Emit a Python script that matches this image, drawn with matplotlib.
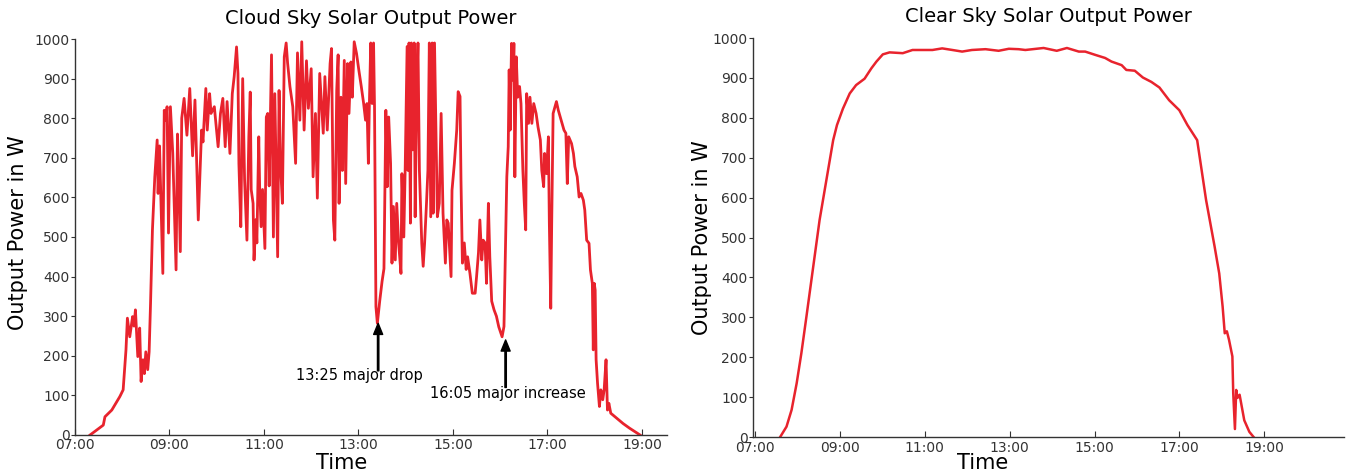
import matplotlib.pyplot as plt

# Час у годинах (десяткові), потужність у Вт
cloud_t = [7.32, 7.60, 7.635, 7.78, 7.95, 8.02, 8.08, 8.11, 8.16, 8.22, 8.25, 8.28, 8.33, 8.37,
           8.40, 8.44, 8.47, 8.50, 8.54, 8.57, 8.60, 8.64, 8.69, 8.74, 8.76, 8.79, 8.86, 8.89,
           8.92, 8.95, 8.98, 9.02, 9.07, 9.14, 9.17, 9.19, 9.23, 9.26, 9.31, 9.37, 9.43, 9.49,
           9.54, 9.61, 9.68, 9.71, 9.77, 9.80, 9.85, 9.88, 9.95, 10.03, 10.08, 10.13, 10.18,
           10.22, 10.28, 10.33, 10.37, 10.42, 10.45, 10.47, 10.51, 10.55, 10.59, 10.64, 10.68,
           10.71, 10.73, 10.77, 10.79, 10.83, 10.85, 10.89, 10.91, 10.94, 10.97, 11.02, 11.05,
           11.08, 11.11, 11.16, 11.20, 11.23, 11.29, 11.32, 11.35, 11.39, 11.43, 11.47, 11.50,
           11.55, 11.61, 11.67, 11.71, 11.76, 11.80, 11.85, 11.90, 11.94, 12.00, 12.04, 12.09,
           12.13, 12.18, 12.255, 12.29, 12.34, 12.40, 12.43, 12.47, 12.50, 12.54, 12.57, 12.59,
           12.63, 12.66, 12.70, 12.73, 12.77, 12.80, 12.84, 12.87, 12.91, 12.96, 13.01, 13.06,
           13.11, 13.15, 13.18, 13.21, 13.23, 13.26, 13.29, 13.32, 13.34, 13.37, 13.40, 13.45,
           13.50, 13.54, 13.58, 13.61, 13.64, 13.68, 13.71, 13.74, 13.78, 13.81, 13.85, 13.90,
           13.92, 13.96, 13.99, 14.03, 14.05, 14.07, 14.10, 14.12, 14.15, 14.18, 14.20, 14.23,
           14.26, 14.29, 14.34, 14.37, 14.40, 14.44, 14.47, 14.50, 14.53, 14.56, 14.58, 14.61,
           14.64, 14.67, 14.71, 14.75, 14.79, 14.84, 14.87, 14.90, 14.96, 14.98, 15.03, 15.08,
           15.11, 15.15, 15.17, 15.20, 15.24, 15.28, 15.31, 15.36, 15.41, 15.47, 15.50, 15.54,
           15.57, 15.61, 15.64, 15.68, 15.71, 15.75, 15.78, 15.82, 15.87, 15.92, 15.97, 16.04,
           16.08, 16.12, 16.14, 16.17, 16.19, 16.21, 16.24, 16.27, 16.29, 16.31, 16.34, 16.37,
           16.41, 16.44, 16.48, 16.51, 16.54, 16.56, 16.60, 16.63, 16.67, 16.71, 16.76, 16.80,
           16.85, 16.88, 16.92, 16.94, 16.98, 17.02, 17.04, 17.07, 17.09, 17.12, 17.19, 17.23,
           17.29, 17.35, 17.39, 17.42, 17.45, 17.51, 17.55, 17.58, 17.63, 17.67, 17.71, 17.76,
           17.79, 17.83, 17.88, 17.91, 17.95, 17.97, 17.99, 18.01, 18.03, 18.06, 18.10, 18.13,
           18.17, 18.20, 18.24, 18.27, 18.30, 18.34, 18.43, 18.60, 18.74, 18.96]
cloud_p = [0, 25, 46, 63, 97, 114, 215, 295, 248, 299, 275, 316, 198, 270,
           135, 190, 155, 210, 165, 210, 333, 518, 652, 745, 610, 730, 408, 820,
           795, 829, 510, 829, 712, 417, 760, 678, 463, 800, 850, 757, 875, 705,
           846, 543, 770, 740, 875, 770, 862, 812, 829, 728, 812, 850, 728,
           842, 711, 862, 905, 980, 913, 685, 526, 900, 645, 492, 753,
           866, 620, 585, 442, 544, 485, 753, 620, 526, 620, 471, 803,
           812, 629, 960, 500, 862, 450, 870, 685, 585, 955, 990, 940,
           880, 829, 686, 965, 795, 993, 770, 945, 825, 925, 652, 812,
           598, 913, 762, 905, 770, 938, 976, 543, 492, 870, 960, 585,
           853, 668, 946, 635, 938, 812, 942, 853, 993, 963, 920, 880,
           837, 795, 837, 686, 829, 990, 837, 990, 829, 324, 282, 338,
           388, 420, 820, 627, 803, 686, 434, 577, 442, 585, 485, 408,
           660, 500, 678, 981, 668, 990, 535, 990, 720, 990, 551, 853,
           990, 668, 484, 426, 484, 585, 668, 990, 551, 990, 560, 990,
           770, 551, 585, 812, 560, 434, 543, 535, 400, 618, 686, 770,
           867, 855, 644, 434, 485, 418, 450, 408, 358, 358, 400, 460,
           543, 442, 492, 485, 383, 585, 450, 338, 316, 300, 273, 248,
           274, 518, 652, 728, 922, 770, 989, 896, 989, 652, 955, 853,
           880, 837, 668, 585, 518, 862, 787, 853, 787, 837, 812, 778,
           745, 668, 627, 711, 660, 753, 535, 320, 535, 812, 842, 820,
           795, 770, 762, 635, 753, 736, 711, 678, 652, 601, 610, 593,
           568, 492, 484, 417, 383, 215, 383, 366, 190, 131, 72, 114,
           89, 114, 190, 63, 80, 55, 46, 29, 17, 0]

clear_t = [7.59, 7.74, 7.86, 7.98, 8.09, 8.21, 8.37, 8.52, 8.68, 8.84, 8.93, 9.07, 9.23,
           9.38, 9.58, 9.74, 9.86, 10.01, 10.17, 10.48, 10.71, 11.18, 11.41, 11.65, 11.88,
           12.11, 12.43, 12.74, 12.98, 13.21, 13.37, 13.80, 14.11, 14.35, 14.63, 14.78,
           15.01, 15.25, 15.40, 15.64, 15.75, 15.95, 16.14, 16.34, 16.53, 16.76, 17.00,
           17.19, 17.42, 17.63, 17.83, 17.94, 18.02, 18.07, 18.12, 18.17, 18.25, 18.27,
           18.31, 18.34, 18.37, 18.42, 18.53, 18.65, 18.75]
clear_p = [0, 26, 68, 135, 210, 302, 427, 544, 644, 744, 782, 823, 861,
           882, 898, 924, 941, 959, 964, 962, 970, 970, 974, 970, 966,
           970, 972, 968, 973, 972, 970, 975, 968, 975, 966, 966,
           958, 950, 941, 932, 920, 918, 901, 890, 876, 844, 819,
           782, 744, 594, 478, 410, 327, 260, 265, 244, 202, 110,
           20, 118, 98, 106, 42, 13, 0]

hour_ticks = [7, 9, 11, 13, 15, 17, 19]
hour_labels = ['07:00', '09:00', '11:00', '13:00', '15:00', '17:00', '19:00']
power_ticks = list(range(0, 1001, 100))

red = '#e8232d'
grey = '#333333'

fig = plt.figure(figsize=(13.48, 4.74), dpi=100)
ax1 = fig.add_axes([0.0556, 0.0823, 0.4392, 0.8354])
ax2 = fig.add_axes([0.5586, 0.078, 0.4384, 0.8418])


def style_axes(ax, xmax, xmin=7):
    ax.set_xlim(xmin, xmax)
    ax.set_ylim(0, 1000)
    ax.set_xticks(hour_ticks)
    ax.set_xticklabels(hour_labels)
    ax.set_yticks(power_ticks)
    for s in ['top', 'right']:
        ax.spines[s].set_visible(False)
    for s in ['left', 'bottom']:
        ax.spines[s].set_color(grey)
        ax.spines[s].set_linewidth(1.0)
    ax.tick_params(axis='x', direction='in', length=4, pad=2.5, labelsize=10,
                   color=grey, labelcolor=grey)
    ax.tick_params(axis='y', direction='out', length=3, pad=1, labelsize=10,
                   color=grey, labelcolor=grey)
    ax.set_ylabel('Output Power in W', fontsize=15)
    ax.set_xlabel('Time', fontsize=15)


# Хмарний день
ax1.plot(cloud_t, cloud_p, color=red, lw=2.0)
style_axes(ax1, 19.53)
ax1.set_title('Cloud Sky Solar Output Power', fontsize=14, pad=11)
ax1.yaxis.set_label_coords(-0.079, 0.51)
ax1.xaxis.set_label_coords(0.45, -0.045)

arrow = dict(facecolor='black', edgecolor='black', width=1.0, headwidth=6.5,
             headlength=8, shrink=0)
ax1.annotate('', xy=(13.417, 282), xytext=(13.417, 162), arrowprops=arrow)
ax1.text(13.03, 149, '13:25 major drop', fontsize=10.5, ha='center', va='center')
ax1.annotate('', xy=(16.115, 240), xytext=(16.115, 120), arrowprops=arrow)
ax1.text(16.16, 106, '16:05 major increase', fontsize=10.5, ha='center', va='center')

# Ясний день
ax2.plot(clear_t, clear_p, color=red, lw=1.8)
style_axes(ax2, 20.88, xmin=6.95)
ax2.set_title('Clear Sky Solar Output Power', fontsize=14, pad=11.5)
ax2.yaxis.set_label_coords(-0.069, 0.5)
ax2.xaxis.set_label_coords(0.389, -0.04)

fig.savefig('out.png', dpi=100)
